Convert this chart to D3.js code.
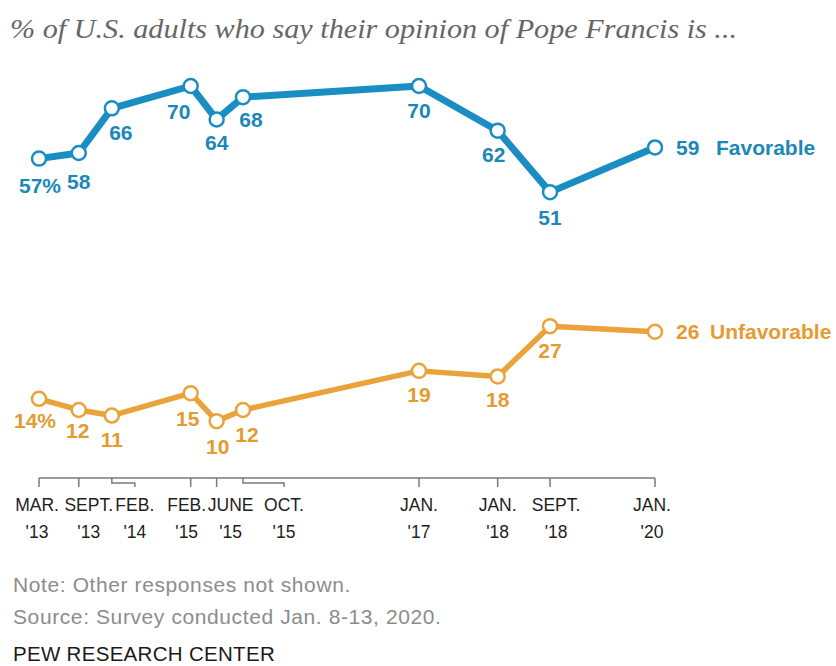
<!DOCTYPE html>
<html><head><meta charset="utf-8">
<script src="https://cdn.jsdelivr.net/npm/d3@7"></script>
<style>body{margin:0;background:#fff}svg{display:block}</style>
</head><body><div id="chart"></div>
<script>
// ---- data ----
const dates = ["2013-03-01","2013-09-01","2014-02-01","2015-02-01","2015-06-01","2015-10-01","2017-01-01","2018-01-01","2018-09-01","2020-01-01"];
const monthLabels = ["MAR.","SEPT.","FEB.","FEB.","JUNE","OCT.","JAN.","JAN.","SEPT.","JAN."];
const yearLabels = ["'13","'13","'14","'15","'15","'15","'17","'18","'18","'20"];
const favorable = [57,58,66,70,64,68,70,62,51,59];
const unfavorable = [14,12,11,15,10,12,19,18,27,26];
const seriesNames = ["Favorable","Unfavorable"];
const titleText = "% of U.S. adults who say their opinion of Pope Francis is ...";
const noteText = "Note: Other responses not shown.";
const sourceText = "Source: Survey conducted Jan. 8-13, 2020.";
const creditText = "PEW RESEARCH CENTER";

// ---- layout (not data) ----
const W = 836, H = 666;
const BLUE = "#1a8dc3", BLUE_TXT = "#1c87b9", ORANGE = "#eaa23a", ORANGE_TXT = "#e49b30";
const tickLabelDx = [-2,10,23,-4,14,41,0,0,6,-3];
const bracketTicks = [2,5];
const favLabelOff = [[1,27],[0,28],[9,24],[-12,25],[0,23],[8,22],[0,24],[-4,24],[0,25]];
const unfLabelOff = [[-4,22],[-1,21],[0,24],[-3,25],[1,25],[4,25],[0,24],[0,23],[0,24]];

const parse = d3.timeParse("%Y-%m-%d");
const dts = dates.map(parse);

const x = d3.scaleTime()
  .domain([dts[0], dts[5], dts[6], dts[9]])
  .range([39, 243, 419, 655]);
const y = d3.scaleLinear().domain([0, 70]).range([477, 86]);

const svg = d3.select("#chart").append("svg").attr("width", W).attr("height", H)
  .style("background", "#fff");

// title
svg.append("text").attr("x", 10).attr("y", 38)
  .attr("font-family", "'Liberation Serif', 'DejaVu Serif', serif")
  .attr("font-style", "italic").attr("font-size", 27).attr("fill", "#666")
  .attr("textLength", 727).attr("lengthAdjust", "spacingAndGlyphs")
  .text(titleText);

// axis
const axisY = 478;
const ax = svg.append("g").attr("stroke", "#7a7a7a").attr("stroke-width", 1.5).attr("fill", "none");
ax.append("line").attr("x1", x(dts[0])).attr("x2", x(dts[dts.length-1]))
  .attr("y1", axisY).attr("y2", axisY);
dts.forEach((d, i) => {
  const tx = x(d);
  if (bracketTicks.includes(i)) {
    ax.append("path").attr("d", `M${tx},${axisY}V${axisY+5}H${tx+tickLabelDx[i]}V${axisY+9}`);
  } else {
    ax.append("line").attr("x1", tx).attr("x2", tx).attr("y1", axisY).attr("y2", axisY+9);
  }
});
const tl = svg.append("g").attr("font-family", "'Liberation Sans', Arial, sans-serif")
  .attr("font-size", 17.5).attr("fill", "#1e1e1e").attr("text-anchor", "middle");
dts.forEach((d, i) => {
  const cx = x(d) + tickLabelDx[i];
  tl.append("text").attr("x", cx).attr("y", 511).text(monthLabels[i]);
  tl.append("text").attr("x", cx).attr("y", 538).text(yearLabels[i]);
});

// lines
const line = d3.line().x((v, i) => x(dts[i])).y(v => y(v));
function drawSeries(vals, color, txtColor, width, offs, name, nameGap, pctIdx) {
  svg.append("path").attr("d", line(vals)).attr("fill", "none")
    .attr("stroke", color).attr("stroke-width", width)
    .attr("stroke-linejoin", "round").attr("stroke-linecap", "round");
  svg.append("g").selectAll("circle").data(vals).join("circle")
    .attr("cx", (v, i) => x(dts[i])).attr("cy", v => y(v)).attr("r", 7)
    .attr("fill", "#fff").attr("stroke", color).attr("stroke-width", 2.5);
  const g = svg.append("g").attr("font-family", "'Liberation Sans', Arial, sans-serif")
    .attr("font-weight", "bold").attr("font-size", 21).attr("fill", txtColor);
  vals.forEach((v, i) => {
    if (i === vals.length - 1) {
      const ex = x(dts[i]), ey = y(v);
      g.append("text").attr("x", ex + 21).attr("y", ey + 7.5).text(v);
      g.append("text").attr("x", ex + 21 + nameGap).attr("y", ey + 7.5).text(name);
    } else {
      g.append("text").attr("text-anchor", "middle")
        .attr("x", x(dts[i]) + offs[i][0]).attr("y", y(v) + offs[i][1] + 7.5)
        .text(i === pctIdx ? v + "%" : v);
    }
  });
}
drawSeries(favorable, BLUE, BLUE_TXT, 7, favLabelOff, seriesNames[0], 40, 0);
drawSeries(unfavorable, ORANGE, ORANGE_TXT, 5.5, unfLabelOff, seriesNames[1], 34, 0);

// notes
const nt = svg.append("g").attr("font-family", "'Liberation Sans', Arial, sans-serif");
nt.append("text").attr("x", 13).attr("y", 592).attr("font-size", 21).attr("letter-spacing", 0.6)
  .attr("fill", "#8c8c8c").text(noteText);
nt.append("text").attr("x", 13).attr("y", 624).attr("font-size", 21).attr("letter-spacing", 0.6)
  .attr("fill", "#8c8c8c").text(sourceText);
nt.append("text").attr("x", 13).attr("y", 661).attr("font-size", 20.5).attr("letter-spacing", 0.3)
  .attr("fill", "#1a1a1a").text(creditText);
</script>
</body></html>
